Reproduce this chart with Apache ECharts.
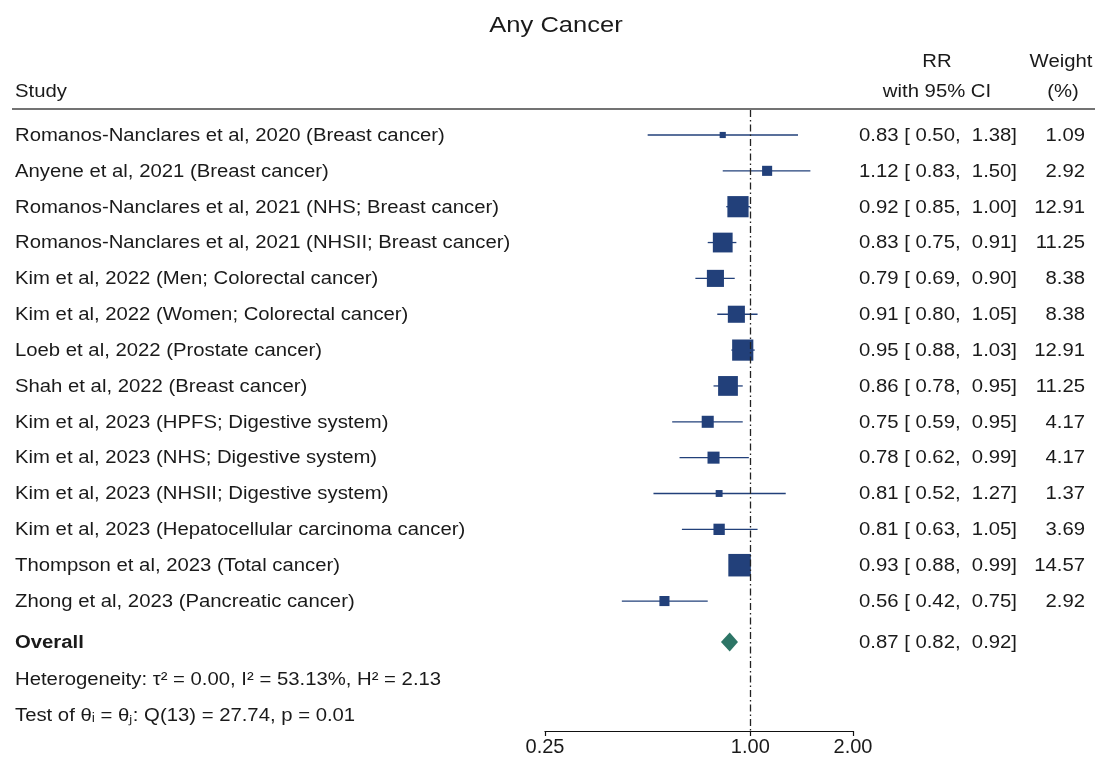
<!DOCTYPE html>
<html>
<head>
<meta charset="utf-8">
<title>Any Cancer</title>
<script src="https://cdn.jsdelivr.net/npm/echarts@6/dist/echarts.min.js"></script>
<style>
  html, body { margin: 0; padding: 0; background: #fff; }
  #myChart { width: 1097px; height: 760px; }
</style>
</head>
<body>
<div id="myChart"></div>
<script>
  // 数据
  var studies = [
    'Romanos-Nanclares et al, 2020 (Breast cancer)',
    'Anyene et al, 2021 (Breast cancer)',
    'Romanos-Nanclares et al, 2021 (NHS; Breast cancer)',
    'Romanos-Nanclares et al, 2021 (NHSII; Breast cancer)',
    'Kim et al, 2022 (Men; Colorectal cancer)',
    'Kim et al, 2022 (Women; Colorectal cancer)',
    'Loeb et al, 2022 (Prostate cancer)',
    'Shah et al, 2022 (Breast cancer)',
    'Kim et al, 2023 (HPFS; Digestive system)',
    'Kim et al, 2023 (NHS; Digestive system)',
    'Kim et al, 2023 (NHSII; Digestive system)',
    'Kim et al, 2023 (Hepatocellular carcinoma cancer)',
    'Thompson et al, 2023 (Total cancer)',
    'Zhong et al, 2023 (Pancreatic cancer)'
  ];
  var rr     = [0.83, 1.12, 0.92, 0.83, 0.79, 0.91, 0.95, 0.86, 0.75, 0.78, 0.81, 0.81, 0.93, 0.56];
  var lo     = [0.50, 0.83, 0.85, 0.75, 0.69, 0.80, 0.88, 0.78, 0.59, 0.62, 0.52, 0.63, 0.88, 0.42];
  var hi     = [1.38, 1.50, 1.00, 0.91, 0.90, 1.05, 1.03, 0.95, 0.95, 0.99, 1.27, 1.05, 0.99, 0.75];
  var weight = [1.09, 2.92, 12.91, 11.25, 8.38, 8.38, 12.91, 11.25, 4.17, 4.17, 1.37, 3.69, 14.57, 2.92];
  var overall = [0.87, 0.82, 0.92];
  var xTicks = [0.25, 1, 2];

  var FONT = '"Liberation Sans", Arial, Helvetica, sans-serif';
  var INK = '#1a1a1a';
  var NAVY = '#22407a';
  var SX = 1.16;          // 原图文字横向拉伸
  var overallRow = 14.14;

  function ciText(r, l, h) {
    return r.toFixed(2) + ' [ ' + l.toFixed(2) + ',  ' + h.toFixed(2) + ']';
  }

  function txt(x, y, s, align, bold) {
    return {
      type: 'text', x: x, y: y, scaleX: SX,
      style: {
        text: s, align: align, verticalAlign: 'middle', fill: INK,
        fontSize: 17.5, fontFamily: FONT, fontWeight: bold ? 'bold' : 'normal'
      }
    };
  }

  var studyData = studies.map(function (s, i) {
    return [rr[i], i, lo[i], hi[i], weight[i]];
  });

  function renderStudy(params, api) {
    var i = params.dataIndex;
    var c = api.coord([api.value(0), api.value(1)]);
    var a = api.coord([api.value(2), api.value(1)]);
    var b = api.coord([api.value(3), api.value(1)]);
    var size = 5.9 * Math.sqrt(api.value(4));
    return {
      type: 'group',
      children: [
        {type: 'line', shape: {x1: a[0], y1: a[1], x2: b[0], y2: b[1]}, style: {stroke: NAVY, lineWidth: 1.3}},
        {type: 'rect', shape: {x: c[0] - size / 2, y: c[1] - size / 2, width: size, height: size}, style: {fill: NAVY}},
        txt(15, c[1] + 1, studies[i], 'left'),
        txt(1017, c[1] + 1, ciText(rr[i], lo[i], hi[i]), 'right'),
        txt(1085, c[1] + 1, weight[i].toFixed(2), 'right')
      ]
    };
  }

  function renderOverall(params, api) {
    var y = api.value(1);
    var c = api.coord([api.value(0), y]);
    var a = api.coord([api.value(2), y]);
    var b = api.coord([api.value(3), y]);
    var h = 9.5;
    return {
      type: 'group',
      children: [
        {type: 'polygon', shape: {points: [[a[0], c[1]], [c[0], c[1] - h], [b[0], c[1]], [c[0], c[1] + h]]},
          style: {fill: '#2d7566'}},
        txt(15, c[1] + 1, 'Overall', 'left', true),
        txt(1017, c[1] + 1, ciText(overall[0], overall[1], overall[2]), 'right')
      ]
    };
  }

  var myChart = echarts.init(document.getElementById('myChart'));
  var option = {
    animation: false,
    backgroundColor: '#fff',
    grid: {left: 545, right: 244, top: 110, bottom: 29},
    xAxis: {
      type: 'log',
      logBase: 2,
      min: 0.25,
      max: 2,
      splitLine: {show: false},
      axisLine: {onZero: false, lineStyle: {color: '#111', width: 1.2}},
      axisTick: {length: 5, customValues: xTicks, lineStyle: {color: '#111', width: 1.2}},
      axisLabel: {
        customValues: xTicks,
        margin: 6,
        color: INK,
        fontSize: 20,
        fontFamily: FONT,
        formatter: function (v) { return Number(v).toFixed(2); }
      }
    },
    yAxis: {
      type: 'value',
      inverse: true,
      min: -0.697,
      max: 16.625,
      show: false
    },
    graphic: [
      {type: 'text', x: 556, y: 26, scaleX: 1.16,
        style: {text: 'Any Cancer', align: 'center', verticalAlign: 'middle', fill: INK, fontSize: 22, fontFamily: FONT}},
      txt(15, 92, 'Study', 'left'),
      txt(937, 62, 'RR', 'center'),
      txt(937, 92, 'with 95% CI', 'center'),
      txt(1061, 62, 'Weight', 'center'),
      txt(1063, 92, '(%)', 'center'),
      {type: 'line', shape: {x1: 12, y1: 109, x2: 1095, y2: 109}, style: {stroke: '#444', lineWidth: 1.6}},
      txt(15, 680, 'Heterogeneity: \u03c4\u00b2 = 0.00, I\u00b2 = 53.13%, H\u00b2 = 2.13', 'left'),
      txt(15, 716, 'Test of \u03b8\u1d62 = \u03b8\u2c7c: Q(13) = 27.74, p = 0.01', 'left')
    ],
    series: [
      {
        type: 'custom',
        clip: false,
        z: 3,
        renderItem: renderStudy,
        data: studyData,
        markLine: {
          silent: true,
          symbol: ['none', 'none'],
          label: {show: false},
          lineStyle: {color: '#222', width: 1.3, type: [7, 3, 1.5, 3]},
          data: [{xAxis: 1}]
        }
      },
      {
        type: 'custom',
        clip: false,
        z: 3,
        renderItem: renderOverall,
        data: [[overall[0], overallRow, overall[1], overall[2]]]
      }
    ]
  };
  myChart.setOption(option);
</script>
</body>
</html>
